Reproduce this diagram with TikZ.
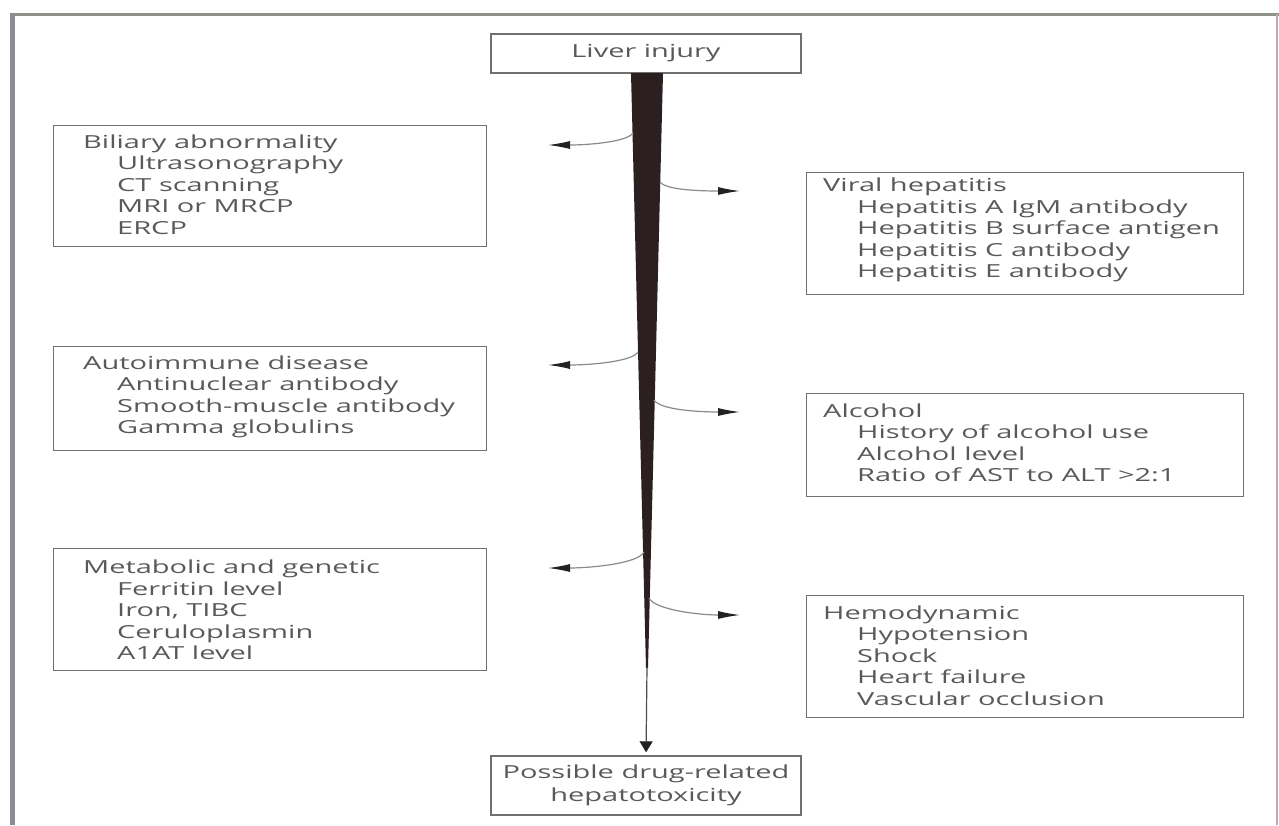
\documentclass[tikz,border=0pt]{standalone}
\usepackage{fontspec}
\setmainfont{Open Sans}[FakeStretch=1.61]
\usetikzlibrary{arrows.meta}
\definecolor{txtgray}{HTML}{595959}
\definecolor{boxgray}{HTML}{707070}
\definecolor{arrgray}{HTML}{8A8A8A}
\definecolor{arrdark}{HTML}{222222}
\definecolor{wedgecol}{HTML}{2B1F1F}
\definecolor{frametop}{HTML}{8C9288}
\definecolor{frameleft}{HTML}{8A8D96}
\definecolor{frameright}{HTML}{B8A8B8}
\newcommand{\ind}{\hspace*{34pt}}
\begin{document}
\begin{tikzpicture}[x=1pt,y=-1pt,
  box/.style={draw=boxgray, line width=1.4pt, rectangle, inner sep=0pt, anchor=north west},
  cbox/.style={draw=boxgray, line width=1.4pt, rectangle, inner sep=0pt, text=txtgray,
    font=\fontsize{18}{22.5}\selectfont, align=center},
  txt/.style={anchor=north west, inner sep=0pt, align=left, text=txtgray,
    font=\fontsize{18}{21.5}\selectfont},
  branch/.style={draw=arrgray, line width=1.2pt, -{Latex[length=22pt,width=8pt,color=arrdark]}},
  mainarr/.style={draw=arrdark!80, line width=1.2pt, -{Triangle[length=11pt,width=13pt,color=arrdark]}}]
\useasboundingbox (0,0) rectangle (1279,825);
\fill[white] (0,0) rectangle (1279,825);
% frame
\draw[line width=3pt, frametop] (10,14) -- (1279,14);
\draw[line width=5pt, frameleft] (12,12.5) -- (12,825);
\draw[line width=1.2pt, frameright] (1277,14) -- (1277,825);

% top and bottom boxes
\node[cbox, minimum width=310pt, minimum height=39pt] (liver) at (646,53.5) {Liver injury};
\node[cbox, minimum width=310pt, minimum height=59pt] (poss) at (646,785.5) {Possible drug-related\\hepatotoxicity};

% left boxes
\node[box, minimum width=433pt, minimum height=121pt] (bil) at (53,125) {};
\node[txt] (bilt) at (83,134.5) {Biliary abnormality\\\ind Ultrasonography\\\ind CT scanning\\\ind MRI or MRCP\\\ind ERCP};
\node[box, minimum width=433pt, minimum height=104pt] (auto) at (53,346) {};
\node[txt] (autot) at (83,355.5) {Autoimmune disease\\\ind Antinuclear antibody\\\ind Smooth-muscle antibody\\\ind Gamma globulins};
\node[box, minimum width=433pt, minimum height=122pt] (meta) at (53,548) {};
\node[txt] (metat) at (83,560) {Metabolic and genetic\\\ind Ferritin level\\\ind Iron, TIBC\\\ind Ceruloplasmin\\\ind A1AT level};

% right boxes
\node[box, minimum width=437pt, minimum height=122pt] (vir) at (806,172) {};
\node[txt] (virt) at (823,178) {Viral hepatitis\\\ind Hepatitis A IgM antibody\\\ind Hepatitis B surface antigen\\\ind Hepatitis C antibody\\\ind Hepatitis E antibody};
\node[box, minimum width=437pt, minimum height=103pt] (alc) at (806,393) {};
\node[txt] (alct) at (823,403.5) {Alcohol\\\ind History of alcohol use\\\ind Alcohol level\\\ind Ratio of AST to ALT >2:1};
\node[box, minimum width=437pt, minimum height=122pt] (hem) at (806,595) {};
\node[txt] (hemt) at (823,605.5) {Hemodynamic\\\ind Hypotension\\\ind Shock\\\ind Heart failure\\\ind Vascular occlusion};

% wedge
\fill[wedgecol] (631,73) -- (663,73) -- (648,668) -- (646,668) -- cycle;
\coordinate (wtip) at (647,667);
\draw[mainarr, shorten >=3pt] (wtip) -- (poss.north);

% branch coordinates
\coordinate (l1s) at (633,133);
\coordinate (l1e) at (548,145);
\coordinate (r1s) at (660,182);
\coordinate (r1e) at (740,191);
\coordinate (l2s) at (638,352);
\coordinate (l2e) at (548,365);
\coordinate (r2s) at (654,400);
\coordinate (r2e) at (740,412);
\coordinate (l3s) at (644,552);
\coordinate (l3e) at (548,568);
\coordinate (r3s) at (649,598);
\coordinate (r3e) at (740,615);

\draw[branch] (l1s) .. controls +(-6,9) and +(40,0) .. (l1e);
\draw[branch] (r1s) .. controls +(6,8) and +(-40,0) .. (r1e);
\draw[branch] (l2s) .. controls +(-6,10) and +(40,0) .. (l2e);
\draw[branch] (r2s) .. controls +(6,10) and +(-40,0) .. (r2e);
\draw[branch] (l3s) .. controls +(-6,12) and +(40,0) .. (l3e);
\draw[branch] (r3s) .. controls +(6,12) and +(-40,0) .. (r3e);
\end{tikzpicture}
\end{document}
